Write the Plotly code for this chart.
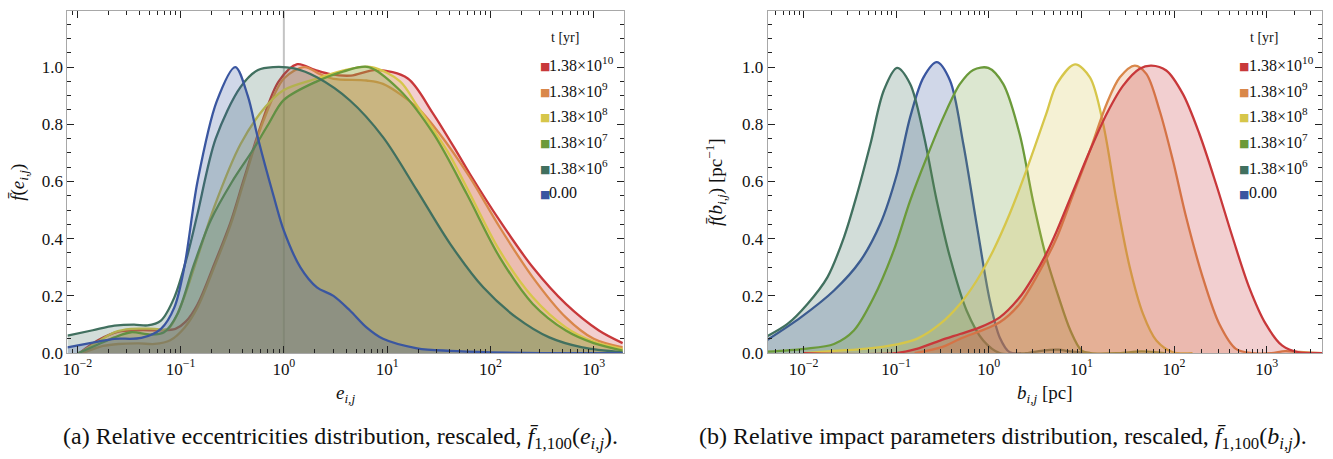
import numpy as np
import plotly.graph_objects as go

# ---------------- data ----------------
series_labels = ["1.38×10<sup>10</sup>", "1.38×10<sup>9</sup>", "1.38×10<sup>8</sup>",
                 "1.38×10<sup>7</sup>", "1.38×10<sup>6</sup>", "0.00"]
series_colors = ["#c8383a", "#d9874a", "#d6c64a", "#6b9a3a", "#41705f", "#3a56a0"]

# left panel: log10(e_ij) positions and rescaled f values
e_red_log = [-1.98, -1.8, -1.6, -1.4, -1.2, -1.05, -0.95, -0.836, -0.675, -0.514, -0.386, -0.2, -0.05, 0.13, 0.3, 0.45, 0.65, 0.9, 1.2, 1.44, 1.68, 1.8, 2.09, 2.41, 2.73, 3.05, 3.28]
e_red_f = [0.0, 0.045, 0.075, 0.08, 0.08, 0.085, 0.11, 0.17, 0.31, 0.46, 0.61, 0.82, 0.95, 1.01, 0.99, 0.975, 0.97, 0.99, 0.96, 0.84, 0.70, 0.627, 0.463, 0.30, 0.172, 0.079, 0.035]

e_orange_log = [-1.95, -1.75, -1.6, -1.4, -1.25, -1.1, -0.96, -0.836, -0.675, -0.514, -0.386, -0.2, 0.0, 0.2, 0.35, 0.48, 0.8, 0.96, 1.29, 1.51, 1.80, 2.09, 2.41, 2.73, 3.0, 3.28]
e_orange_f = [0.0, 0.025, 0.032, 0.034, 0.032, 0.045, 0.09, 0.16, 0.30, 0.45, 0.6, 0.81, 0.96, 1.0, 0.975, 0.959, 0.953, 0.941, 0.859, 0.766, 0.615, 0.44, 0.265, 0.125, 0.05, 0.02]

e_yellow_log = [-1.98, -1.8, -1.64, -1.48, -1.25, -1.12, -0.99, -0.836, -0.675, -0.42, -0.18, 0.0, 0.32, 0.6, 0.85, 1.125, 1.29, 1.45, 1.61, 1.77, 2.09, 2.41, 2.73, 3.0, 3.28]
e_yellow_f = [0.0, 0.04, 0.073, 0.085, 0.085, 0.085, 0.172, 0.335, 0.51, 0.73, 0.86, 0.92, 0.96, 0.99, 1.0, 0.95, 0.865, 0.78, 0.69, 0.58, 0.358, 0.195, 0.09, 0.04, 0.014]

e_green_log = [-1.99, -1.8, -1.64, -1.48, -1.29, -1.16, -1.03, -0.87, -0.71, -0.5, -0.3, -0.15, 0.0, 0.32, 0.58, 0.82, 1.125, 1.45, 1.77, 2.09, 2.41, 2.73, 3.0, 3.28]
e_green_f = [0.0, 0.03, 0.055, 0.073, 0.065, 0.073, 0.137, 0.31, 0.463, 0.6, 0.71, 0.8, 0.885, 0.95, 0.985, 1.0, 0.918, 0.766, 0.557, 0.335, 0.172, 0.079, 0.035, 0.009]

e_teal_log = [-2.095, -1.85, -1.64, -1.45, -1.32, -1.19, -1.06, -0.93, -0.836, -0.66, -0.42, -0.25, -0.1, 0.1, 0.32, 0.64, 0.96, 1.29, 1.61, 1.93, 2.25, 2.57, 2.89, 3.28]
e_teal_f = [0.061, 0.08, 0.096, 0.1, 0.097, 0.114, 0.195, 0.347, 0.487, 0.75, 0.93, 0.99, 1.0, 0.995, 0.964, 0.883, 0.755, 0.568, 0.382, 0.23, 0.125, 0.055, 0.02, 0.003]

e_blue_log = [-2.095, -1.8, -1.64, -1.38, -1.19, -1.06, -0.964, -0.836, -0.65, -0.47, -0.35, -0.25, -0.1, 0.0, 0.16, 0.32, 0.48, 0.64, 0.8, 0.96, 1.29, 1.61, 2.0, 2.5, 3.28]
e_blue_f = [0.02, 0.04, 0.05, 0.053, 0.085, 0.16, 0.30, 0.60, 0.88, 1.0, 0.9, 0.75, 0.55, 0.428, 0.30, 0.23, 0.20, 0.149, 0.09, 0.05, 0.017, 0.008, 0.003, 0.0, 0.0]

# right panel: log10(b_ij / pc) positions and rescaled f values
b_red_log = [-2.0, -1.0, -0.777, -0.526, -0.311, -0.097, 0.118, 0.333, 0.477, 0.62, 0.735, 0.913, 1.092, 1.272, 1.45, 1.629, 1.755, 1.916, 2.095, 2.274, 2.453, 2.632, 2.811, 2.99, 3.169, 3.348, 3.598]
b_red_f = [0.0, 0.0, 0.015, 0.044, 0.067, 0.09, 0.125, 0.195, 0.265, 0.347, 0.428, 0.568, 0.708, 0.836, 0.935, 0.994, 1.005, 0.988, 0.906, 0.766, 0.592, 0.405, 0.23, 0.102, 0.026, 0.003, 0.0]

b_orange_log = [-0.8, -0.5, -0.311, 0.118, 0.333, 0.62, 0.735, 0.913, 1.092, 1.272, 1.415, 1.576, 1.701, 1.844, 1.988, 2.131, 2.31, 2.489, 2.668, 2.846, 3.05, 3.2, 3.35, 3.598]
b_orange_f = [0.0, 0.022, 0.05, 0.108, 0.172, 0.329, 0.405, 0.557, 0.708, 0.871, 0.964, 1.005, 0.976, 0.848, 0.673, 0.475, 0.265, 0.102, 0.015, 0.0, 0.0, 0.007, 0.004, 0.0]

b_yellow_log = [-1.994, -1.671, -1.314, -0.991, -0.777, -0.526, -0.311, -0.132, 0.047, 0.226, 0.405, 0.62, 0.735, 0.931, 1.092, 1.235, 1.379, 1.522, 1.665, 1.809, 1.988, 2.2]
b_yellow_f = [0.0, 0.008, 0.016, 0.031, 0.05, 0.102, 0.172, 0.253, 0.358, 0.487, 0.638, 0.836, 0.941, 1.009, 0.964, 0.801, 0.533, 0.30, 0.137, 0.044, 0.003, 0.0]

b_green_log = [-2.388, -1.994, -1.671, -1.457, -1.242, -1.027, -0.849, -0.669, -0.49, -0.311, -0.168, -0.006, 0.155, 0.333, 0.477, 0.62, 0.75, 0.88, 1.0, 1.1, 1.4, 1.65, 1.9]
b_green_f = [0.005, 0.015, 0.032, 0.079, 0.195, 0.358, 0.533, 0.685, 0.825, 0.941, 0.99, 0.997, 0.941, 0.766, 0.533, 0.335, 0.2, 0.08, 0.01, 0.0, 0.0, 0.006, 0.0]

b_teal_log = [-2.388, -2.173, -1.958, -1.743, -1.564, -1.421, -1.278, -1.134, -0.991, -0.849, -0.705, -0.562, -0.419, -0.24, -0.06, 0.118, 0.4, 0.6, 0.75, 0.9, 1.1]
b_teal_f = [0.06, 0.102, 0.172, 0.265, 0.405, 0.557, 0.731, 0.918, 0.997, 0.941, 0.766, 0.533, 0.335, 0.149, 0.044, 0.0, 0.0, 0.01, 0.012, 0.005, 0.0]

b_blue_log = [-2.388, -2.03, -1.671, -1.386, -1.171, -0.991, -0.849, -0.705, -0.562, -0.419, -0.275, -0.132, 0.011, 0.118, 0.226, 0.35]
b_blue_f = [0.047, 0.125, 0.219, 0.323, 0.452, 0.627, 0.825, 0.964, 1.017, 0.953, 0.731, 0.452, 0.184, 0.055, 0.003, 0.0]

left_series = [(e_red_log, e_red_f), (e_orange_log, e_orange_f), (e_yellow_log, e_yellow_f),
               (e_green_log, e_green_f), (e_teal_log, e_teal_f), (e_blue_log, e_blue_f)]
right_series = [(b_red_log, b_red_f), (b_orange_log, b_orange_f), (b_yellow_log, b_yellow_f),
                (b_green_log, b_green_f), (b_teal_log, b_teal_f), (b_blue_log, b_blue_f)]

major_exps = [-2, -1, 0, 1, 2, 3]
y_major = [0.0, 0.2, 0.4, 0.6, 0.8, 1.0]

# ---------------- styling ----------------
W, H = 1333, 459
SERIF = "Liberation Serif"
INK = "#111"


def rgba(hx, a):
    hx = hx.lstrip("#")
    r, g, b = int(hx[0:2], 16), int(hx[2:4], 16), int(hx[4:6], 16)
    return f"rgba({r},{g},{b},{a})"


fig = go.Figure()


def add_panel(series, order, xa, ya):
    for i in order:
        lg, fv = series[i]
        fig.add_trace(go.Scatter(
            x=np.power(10.0, np.array(lg)), y=fv, xaxis=xa, yaxis=ya,
            mode="lines", line=dict(color=series_colors[i], width=2.3, shape="spline", smoothing=0.9),
            fill="tozeroy", fillcolor=rgba(series_colors[i], 0.24),
            name=series_labels[i], showlegend=False, hoverinfo="skip"))


add_panel(left_series, [0, 1, 2, 3, 4, 5], "x", "y")
add_panel(right_series, [5, 4, 3, 2, 1, 0], "x2", "y2")

px_x = lambda p: p / W
px_y = lambda p: 1 - p / H

minor_vals = [m * 10.0 ** k for k in range(-3, 4) for m in range(2, 10)]
tick_font = dict(family=SERIF, size=17, color=INK)
title_font = dict(family=SERIF, size=19, color=INK)


def xaxis(dom, rng, anchor):
    return dict(domain=dom, type="log", range=rng, anchor=anchor,
                tickmode="array", tickvals=[10.0 ** k for k in major_exps],
                ticktext=[f"10<sup>{str(k).replace('-', '−')}</sup>" for k in major_exps],
                ticks="inside", ticklen=7, tickwidth=1, tickcolor="#222",
                minor=dict(tickmode="array", tickvals=minor_vals, ticks="inside", ticklen=4, tickwidth=1, tickcolor="#222"),
                showline=True, linecolor="#a8a8a8", linewidth=1, mirror="allticks",
                showgrid=False, zeroline=False, tickfont=tick_font)


def yaxis(anchor):
    return dict(domain=[px_y(361), px_y(11.5)], range=[0, 1.195], anchor=anchor,
                tickmode="array", tickvals=y_major, ticktext=[f"{v:.1f}" for v in y_major],
                ticks="inside", ticklen=7, tickwidth=1, tickcolor="#222",
                minor=dict(dtick=0.05, ticks="inside", ticklen=4, tickwidth=1, tickcolor="#222"),
                showline=True, linecolor="#a8a8a8", linewidth=1, mirror="allticks",
                showgrid=False, zeroline=False, tickfont=tick_font)


xa1 = xaxis([px_x(62.7), px_x(621)], [-2.095, 3.29], "y")
xa1["title"] = dict(text="<i>e</i><sub><i>i,j</i></sub>", font=title_font, standoff=8)
xa2 = xaxis([px_x(765.5), px_x(1322)], [-2.388, 3.598], "y2")
xa2["title"] = dict(text="<i>b</i><sub><i>i,j</i></sub> [pc]", font=title_font, standoff=8)
ya1 = yaxis("x")
ya1["title"] = dict(text="<i>f\u0304</i>(<i>e</i><sub><i>i,j</i></sub>)", font=title_font, standoff=12)
ya2 = yaxis("x2")
ya2["title"] = dict(text="<i>f\u0304</i>(<i>b</i><sub><i>i,j</i></sub>) [pc<sup>−1</sup>]", font=title_font, standoff=14)

annotations = []
legend_rows = [68, 94.2, 120.4, 146.6, 172.8, 199]
for (mx, tx, titx) in [(541.7, 544.5, 562.0), (1244.0, 1247.0, 1263.5)]:
    annotations.append(dict(xref="paper", yref="paper", x=px_x(titx), y=px_y(38), text="t [yr]",
                            showarrow=False, xanchor="center", yanchor="middle",
                            font=dict(family=SERIF, size=14, color=INK)))
    for i, yy in enumerate(legend_rows):
        annotations.append(dict(xref="paper", yref="paper", x=px_x(mx), y=px_y(yy), text="■",
                                showarrow=False, xanchor="center", yanchor="middle",
                                font=dict(family="DejaVu Sans", size=11, color=series_colors[i])))
        annotations.append(dict(xref="paper", yref="paper", x=px_x(tx), y=px_y(yy - 2.5), text=series_labels[i],
                                showarrow=False, xanchor="left", yanchor="middle",
                                font=dict(family=SERIF, size=16, color=INK)))

annotations.append(dict(xref="paper", yref="paper", x=px_x(337), y=px_y(448),
                        text="(a) Relative eccentricities distribution, rescaled, <i>f\u0304</i><sub>1,100</sub>(<i>e</i><sub><i>i,j</i></sub>).",
                        showarrow=False, xanchor="center", yanchor="middle",
                        font=dict(family=SERIF, size=24, color=INK)))
annotations.append(dict(xref="paper", yref="paper", x=px_x(1002), y=px_y(448),
                        text="(b) Relative impact parameters distribution, rescaled, <i>f\u0304</i><sub>1,100</sub>(<i>b</i><sub><i>i,j</i></sub>).",
                        showarrow=False, xanchor="center", yanchor="middle",
                        font=dict(family=SERIF, size=24, color=INK)))

fig.update_layout(
    width=W, height=H, margin=dict(l=0, r=0, t=0, b=0),
    paper_bgcolor="white", plot_bgcolor="white",
    xaxis=xa1, yaxis=ya1, xaxis2=xa2, yaxis2=ya2,
    annotations=annotations, showlegend=False,
    shapes=[dict(type="line", xref="x", yref="y domain", x0=1, x1=1, y0=0, y1=1,
                 line=dict(color="#c4c4c4", width=2), layer="below")],
)

fig.write_html("out.html", config={"displayModeBar": False},
               post_script="document.body.style.margin='0';document.body.style.overflow='hidden';")
